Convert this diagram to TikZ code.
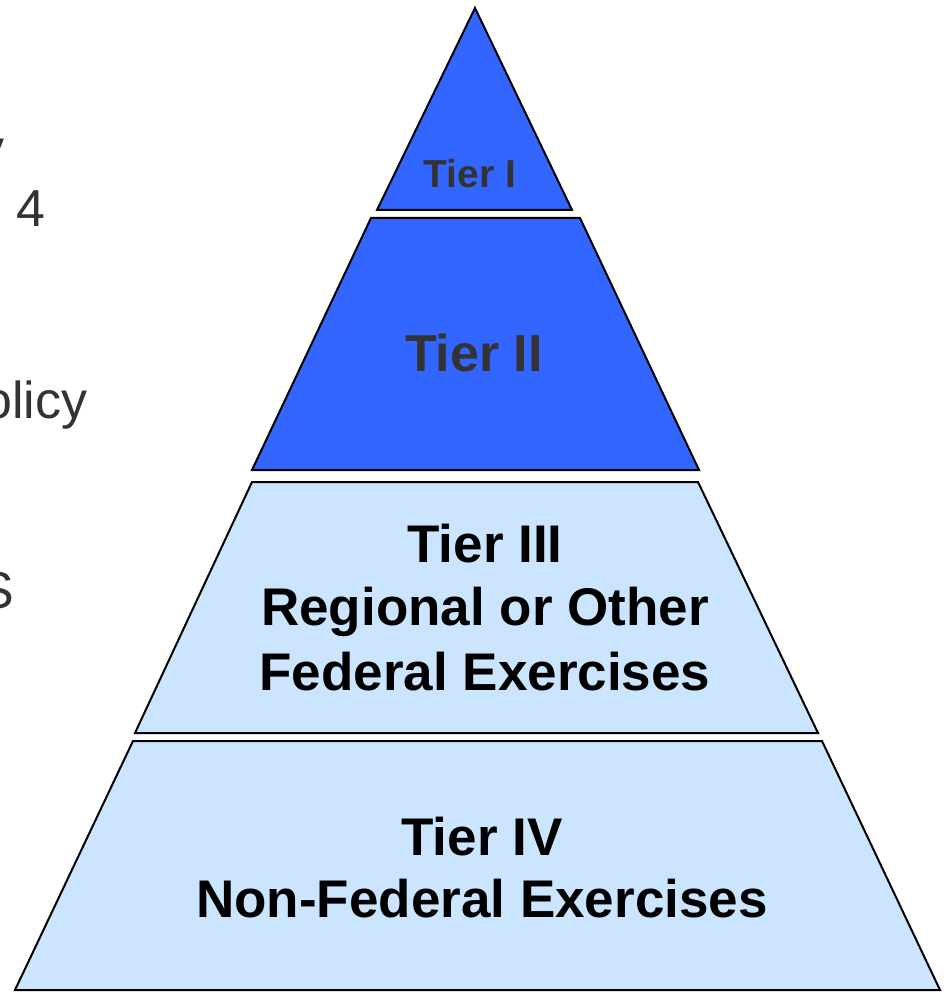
\documentclass[tikz,border=0pt]{standalone}
\usepackage{fontspec}
\setmainfont{Liberation Sans}
\definecolor{tierblue}{RGB}{51,102,255}
\definecolor{tierpale}{RGB}{204,229,255}
\definecolor{tiergrey}{RGB}{51,51,51}
\begin{document}
\begin{tikzpicture}[x=1pt,y=-1pt,
  tierdark/.style={draw=black,line width=2pt,line join=miter,fill=tierblue},
  tierlight/.style={draw=black,line width=2pt,line join=miter,fill=tierpale},
  tiertext/.style={anchor=base,inner sep=0pt,font=\bfseries},
  sidetext/.style={anchor=base west,inner sep=0pt,text=tiergrey,font=\fontsize{52}{60}\selectfont}]
\clip (0,0) rectangle (948,992);

% cut-off text on the left
\node[sidetext] (s1) at (-22,167) {y};
\node[sidetext] (s2) at (16,227) {4};
\node[sidetext] (s3) at (-17,418) {olicy};
\node[sidetext] (s4) at (-21,608) {S};

% pyramid
\path[tierdark] (475,8) -- (572,210) -- (377,210) -- cycle;
\path[tierdark] (371,218) -- (580,218) -- (699,470) -- (252,470) -- cycle;
\path[tierlight] (252,482) -- (698,482) -- (818,733) -- (135,733) -- cycle;
\path[tierlight] (133,741) -- (822,741) -- (940,990) -- (15,990) -- cycle;

\node[tiertext,text=tiergrey,font=\bfseries\fontsize{39}{45}\selectfont] (t1) at (470,188) {Tier I};
\node[tiertext,text=tiergrey,font=\bfseries\fontsize{52}{60}\selectfont] (t2) at (474,371) {Tier II};

\node[tiertext,font=\bfseries\fontsize{53}{60}\selectfont] (t3a) at (485,562) {Tier III};
\node[tiertext,font=\bfseries\fontsize{53}{60}\selectfont] (t3b) at (485,625) {Regional or Other};
\node[tiertext,font=\bfseries\fontsize{53}{60}\selectfont] (t3c) at (485,690) {Federal Exercises};

\node[tiertext,font=\bfseries\fontsize{53}{60}\selectfont] (t4a) at (482,855) {Tier IV};
\node[tiertext,font=\bfseries\fontsize{53}{60}\selectfont] (t4b) at (482,917) {Non-Federal Exercises};
\end{tikzpicture}
\end{document}
